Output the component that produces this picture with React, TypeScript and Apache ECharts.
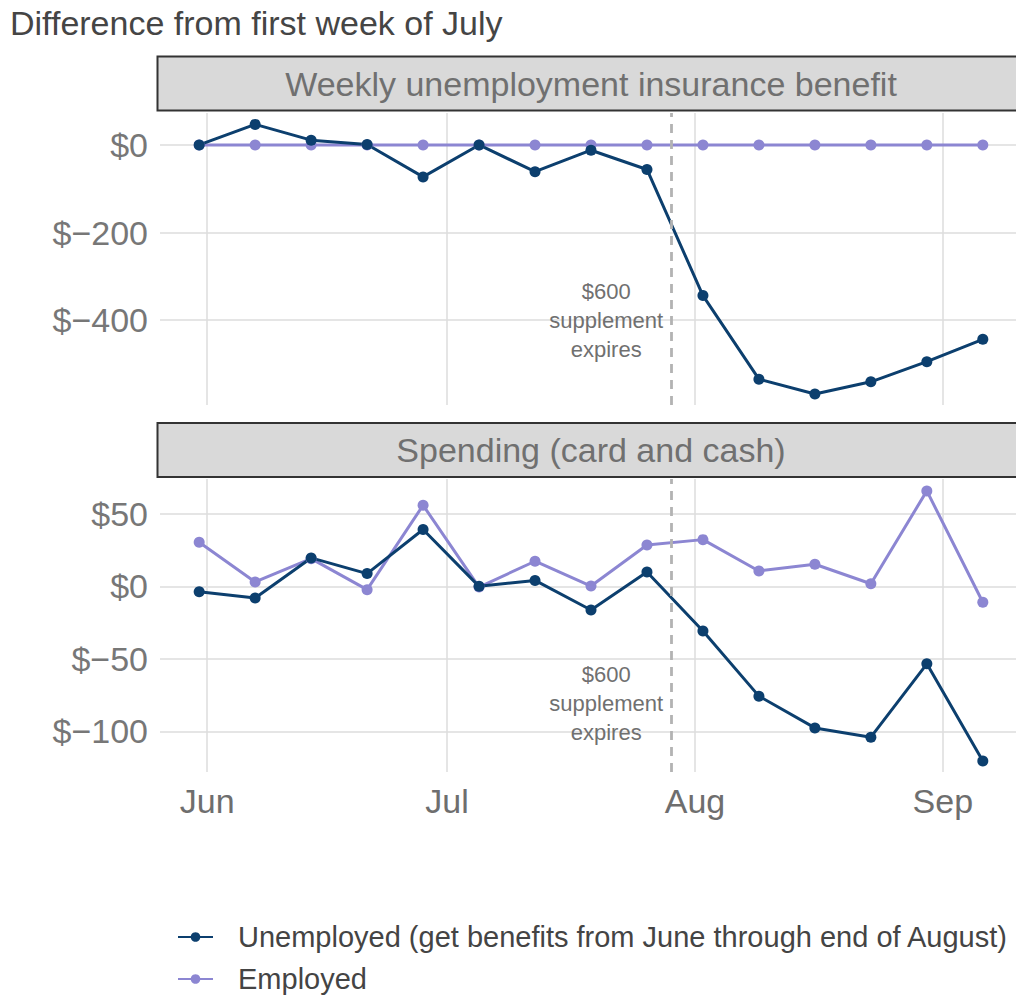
import React, { useEffect, useRef } from 'react';
import * as echarts from 'echarts';

// ---- data ----
const weeks = [
  '2020-05-31', '2020-06-07', '2020-06-14', '2020-06-21', '2020-06-28',
  '2020-07-05', '2020-07-12', '2020-07-19', '2020-07-26', '2020-08-02',
  '2020-08-09', '2020-08-16', '2020-08-23', '2020-08-30', '2020-09-06',
];
const benefitUnemployed = [0, 47, 11, 1, -73, 0, -61, -12, -56, -344, -535, -569, -541, -495, -444];
const benefitEmployed = [0, 0, 0, 0, 0, 0, 0, 0, 0, 0, 0, 0, 0, 0, 0];
const spendingUnemployed = [-3.7, -8.1, 19.6, 8.8, 39.2, 0, 4.1, -16.3, 9.9, -30.8, -75.7, -97.6, -104, -53.4, -120.4];
const spendingEmployed = [30.4, 3.0, 19.1, -2.3, 55.9, -0.5, 17.3, 0.2, 28.5, 32.2, 10.6, 15.2, 1.8, 65.8, -11.0];
const monthTicks = ['2020-06-01', '2020-07-01', '2020-08-01', '2020-09-01'];
const monthLabels = ['Jun', 'Jul', 'Aug', 'Sep'];
const benefitTicks = [0, -200, -400];
const spendingTicks = [50, 0, -50, -100];
const supplementExpires = '2020-07-29';
const panelTitles = ['Weekly unemployment insurance benefit', 'Spending (card and cash)'];
const seriesNames = ['Unemployed (get benefits from June through end of August)', 'Employed'];
const chartTitle = 'Difference from first week of July';
const annotationText = '$600\nsupplement\nexpires';

// ---- helpers ----
const DAY0 = Date.UTC(2020, 5, 1);
const toDay = (s: string) => {
  const [y, m, d] = s.split('-').map(Number);
  return (Date.UTC(y, m - 1, d) - DAY0) / 86400000;
};
const weekDays = weeks.map(toDay);
const monthDays = monthTicks.map(toDay);
const expiresDay = toDay(supplementExpires);
const pair = (vals: number[]) => vals.map((v, i) => [weekDays[i], v]);
const money = (v: number) => (v < 0 ? '$\u2212' + Math.abs(v) : '$' + v);

const FONT = '"Liberation Sans", Arial, Helvetica, sans-serif';
const NAVY = '#0c3f6e';
const LAV = '#8c86d2';
const GRID = '#dcdcdc';

const X_MIN = -5.9;
const X_MAX = 101.15;
const ANN_X = 49.9;

export default function App() {
  const ref = useRef<HTMLDivElement>(null);
  useEffect(() => {
    if (!ref.current) return;
    const chart = echarts.init(ref.current, undefined, { renderer: 'svg' });

    const xAxisBase = (gridIndex: number, showLabels: boolean) => ({
      type: 'value',
      gridIndex,
      min: X_MIN,
      max: X_MAX,
      axisLine: { show: false },
      axisTick: { show: false, customValues: monthDays },
      axisLabel: {
        show: showLabels,
        customValues: monthDays,
        formatter: (v: number) => monthLabels[monthDays.indexOf(v)] ?? '',
        color: '#6e6e6e',
        fontSize: 34,
        fontFamily: FONT,
        margin: 12,
      },
      splitLine: { show: true, lineStyle: { color: GRID, width: 1.5 } },
    });

    const yAxisBase = (gridIndex: number, min: number, max: number, ticks: number[]) => ({
      type: 'value',
      gridIndex,
      min,
      max,
      axisLine: { show: false },
      axisTick: { show: false, customValues: ticks },
      axisLabel: {
        customValues: ticks,
        formatter: money,
        color: '#777777',
        fontSize: 34,
        fontFamily: FONT,
        margin: 12,
      },
      splitLine: { show: true, lineStyle: { color: GRID, width: 1.5 } },
    });

    const lineSeries = (name: string, color: string, data: number[][], idx: number, extra: any = {}) => ({
      type: 'line',
      name,
      xAxisIndex: idx,
      yAxisIndex: idx,
      data,
      symbol: 'circle',
      symbolSize: 11,
      showSymbol: true,
      color,
      itemStyle: { color },
      lineStyle: { color, width: 3 },
      ...extra,
    });

    const markLine = {
      silent: true,
      symbol: 'none',
      label: { show: false },
      lineStyle: { color: '#b3b3b3', width: 2.8, type: [9, 7] },
      data: [{ xAxis: expiresDay }],
    };
    const markPoint = (yVal: number) => ({
      silent: true,
      symbol: 'circle',
      symbolSize: 0,
      label: {
        show: true,
        position: 'inside',
        formatter: annotationText,
        color: '#707070',
        fontSize: 22,
        lineHeight: 29,
        fontFamily: FONT,
        align: 'center',
        verticalAlign: 'middle',
      },
      data: [{ coord: [ANN_X, yVal] }],
    });

    const stripRect = (y: number) => ({
      type: 'rect',
      shape: { x: 157.5, y, width: 880, height: 54 },
      style: { fill: '#d9d9d9', stroke: '#333333', lineWidth: 2 },
      silent: true,
    });
    const stripText = (y: number, text: string) => ({
      type: 'text',
      x: 591,
      y,
      style: {
        text,
        fill: '#707070',
        font: `34px ${FONT}`,
        textAlign: 'center',
        textVerticalAlign: 'middle',
      },
      silent: true,
    });

    chart.setOption({
      animation: false,
      backgroundColor: '#ffffff',
      grid: [
        { left: 160, top: 113, right: 0, height: 292, containLabel: false },
        { left: 160, top: 479, right: 0, height: 293, containLabel: false },
      ],
      xAxis: [xAxisBase(0, false), xAxisBase(1, true)],
      yAxis: [
        yAxisBase(0, -594, 73, benefitTicks),
        yAxisBase(1, -128, 74, spendingTicks),
      ],
      legend: {
        orient: 'vertical',
        left: 177,
        top: 921,
        height: 75,
        padding: 0,
        itemWidth: 35,
        itemHeight: 12,
        itemGap: 10,
        data: seriesNames,
        textStyle: {
          fontSize: 29,
          lineHeight: 32,
          color: '#444444',
          fontFamily: FONT,
          padding: [0, 0, 0, 20],
        },
      },
      graphic: [
        {
          type: 'text',
          x: 10,
          y: 23,
          style: {
            text: chartTitle,
            fill: '#454545',
            font: `34px ${FONT}`,
            textAlign: 'left',
            textVerticalAlign: 'middle',
          },
          silent: true,
        },
        stripRect(56.5),
        stripText(84, panelTitles[0]),
        stripRect(423),
        stripText(450, panelTitles[1]),
      ],
      series: [
        lineSeries(seriesNames[1], LAV, pair(benefitEmployed), 0, { markLine, markPoint: markPoint(-402) }),
        lineSeries(seriesNames[0], NAVY, pair(benefitUnemployed), 0),
        lineSeries(seriesNames[1], LAV, pair(spendingEmployed), 1, { markLine, markPoint: markPoint(-81) }),
        lineSeries(seriesNames[0], NAVY, pair(spendingUnemployed), 1),
      ],
    });
    return () => chart.dispose();
  }, []);
  return (
    <div
      ref={ref}
      style={{ position: 'absolute', left: 0, top: 0, width: 1016, height: 996, overflow: 'hidden' }}
    />
  );
}
